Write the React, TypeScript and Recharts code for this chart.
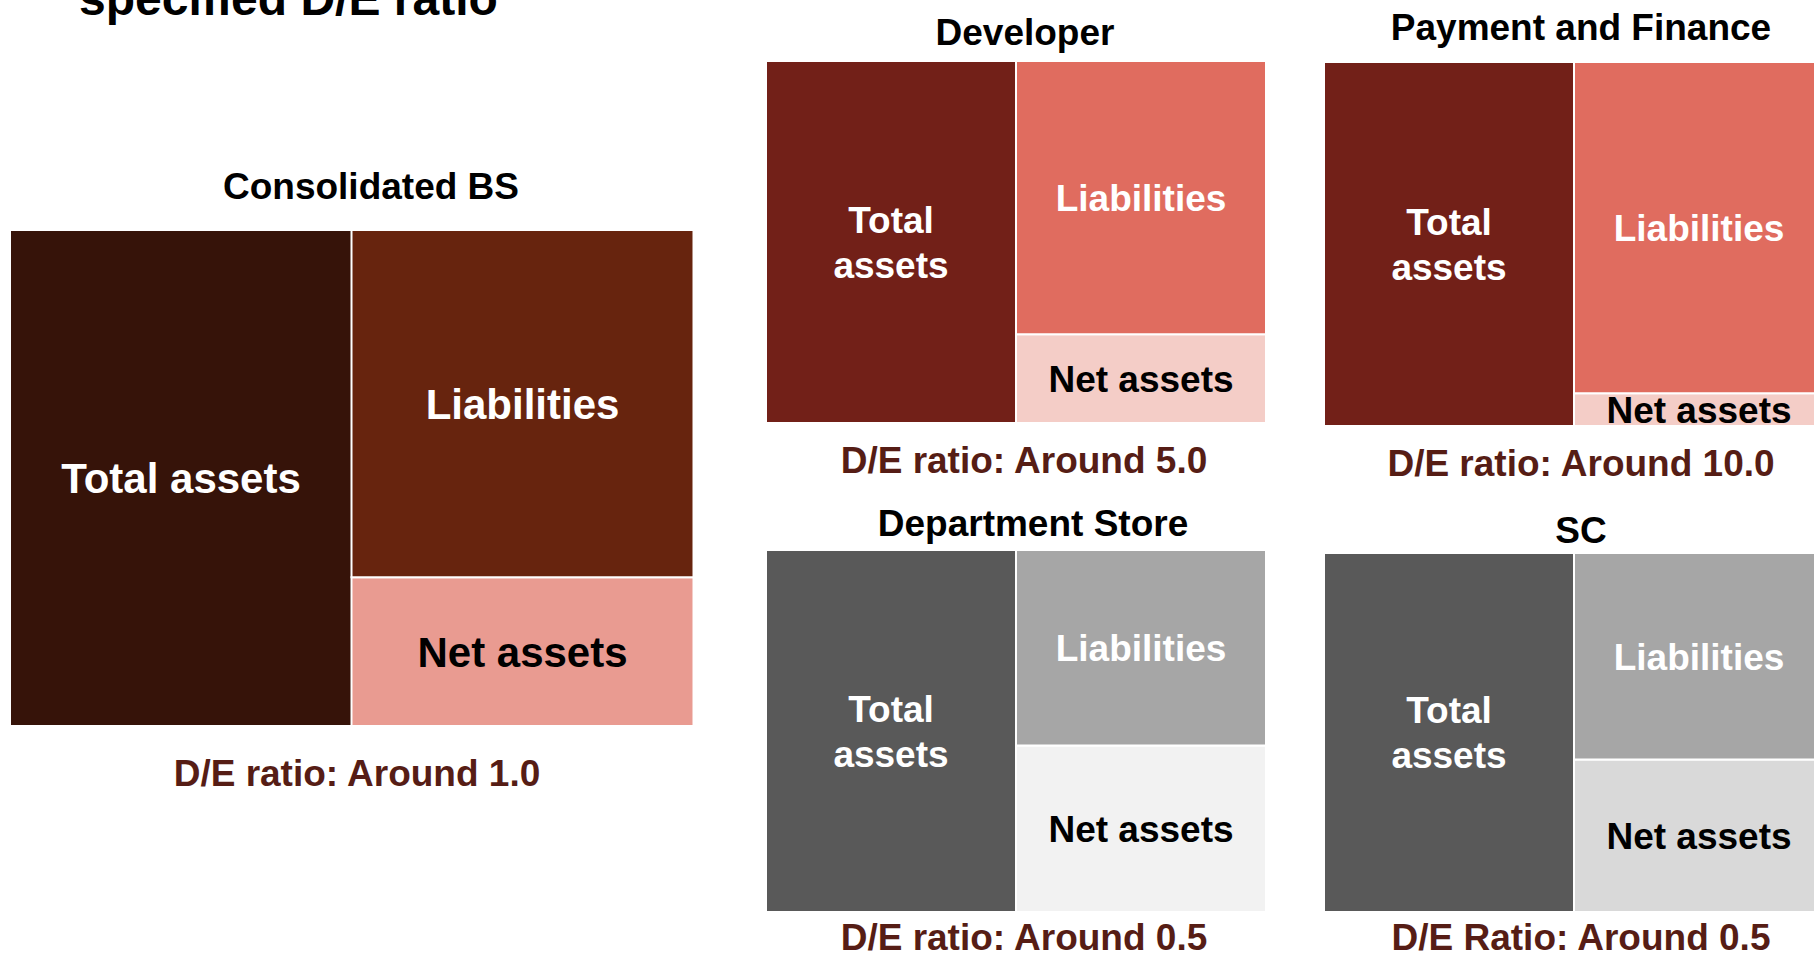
import React from 'react';
import { BarChart, Bar, XAxis, YAxis, LabelList } from 'recharts';

// balance-sheet shares (total assets = 100)
const panelTitles = ['Consolidated BS', 'Developer', 'Payment and Finance', 'Department Store', 'SC'];
const sides = ['Assets', 'Funding'];
const totalAssets = [100, 100, 100, 100, 100];
const liabilities = [70, 75.5, 91, 54, 57.5];
const netAssets = [30, 24.5, 9, 46, 42.5];
const ratioNotes = [
  'D/E ratio: Around 1.0',
  'D/E ratio: Around 5.0',
  'D/E ratio: Around 10.0',
  'D/E ratio: Around 0.5',
  'D/E Ratio: Around 0.5',
];
const headline = 'specified D/E ratio';

const FONT = '"Liberation Sans", Arial, Helvetica, sans-serif';
const NOTE_COLOR = '#561d15';

const red = { total: '#722018', liab: '#e06c5f', net: '#f4cdc7' };
const palettes = [
  { total: '#361309', liab: '#67240e', net: '#e99b91' },
  red,
  red,
  { total: '#595959', liab: '#a6a6a6', net: '#f2f2f2' },
  { total: '#595959', liab: '#a6a6a6', net: '#d9d9d9' },
];

// where each panel sits on the page
const boxes = [
  { x: 11, y: 231, w: 681, h: 494, font: 42, twoLine: false, titleX: 371, titleY: 199, noteX: 357, noteY: 786 },
  { x: 767, y: 62, w: 498, h: 360, font: 37, twoLine: true, titleX: 1025, titleY: 45, noteX: 1024, noteY: 473 },
  { x: 1325, y: 63, w: 498, h: 362, font: 37, twoLine: true, titleX: 1581, titleY: 40, noteX: 1581, noteY: 476 },
  { x: 767, y: 551, w: 498, h: 360, font: 37, twoLine: true, titleX: 1033, titleY: 536, noteX: 1024, noteY: 950 },
  { x: 1325, y: 554, w: 498, h: 357, font: 37, twoLine: true, titleX: 1581, titleY: 543, noteX: 1581, noteY: 950 },
];

const makeLabel = (lines: string[], color: string, fontSize: number) => (props: any) => {
  const { x, y, width, height } = props;
  if (!(height > 0) || !(width > 0)) return null;
  const cx = Number(x) + Number(width) / 2;
  const cy = Number(y) + Number(height) / 2;
  const lh = fontSize * 1.22;
  const first = cy - ((lines.length - 1) * lh) / 2 + fontSize * 0.36;
  return (
    <text textAnchor="middle" fill={color} fontSize={fontSize} fontWeight="bold" fontFamily={FONT}>
      {lines.map((l, i) => (
        <tspan key={i} x={cx} y={first + i * lh}>
          {l}
        </tspan>
      ))}
    </text>
  );
};

const Panel: React.FC<{ idx: number }> = ({ idx }) => {
  const box = boxes[idx];
  const pal = palettes[idx];
  const data = [
    { side: sides[0], total: totalAssets[idx], net: 0, liab: 0 },
    { side: sides[1], total: 0, net: netAssets[idx], liab: liabilities[idx] },
  ];
  const totalLines = box.twoLine ? ['Total', 'assets'] : ['Total assets'];
  return (
    <div style={{ position: 'absolute', left: box.x - 1, top: box.y - 1 }}>
      <BarChart
        width={box.w + 2}
        height={box.h + 2}
        data={data}
        margin={{ top: 0, right: 0, bottom: 0, left: 0 }}
        barCategoryGap={0}
        barGap={0}
      >
        <XAxis dataKey="side" hide />
        <YAxis hide domain={[0, 100]} />
        <Bar dataKey="total" stackId="bs" fill={pal.total} stroke="#ffffff" strokeWidth={2} isAnimationActive={false}>
          <LabelList dataKey="total" content={makeLabel(totalLines, '#ffffff', box.font)} />
        </Bar>
        <Bar dataKey="net" stackId="bs" fill={pal.net} stroke="#ffffff" strokeWidth={2} isAnimationActive={false}>
          <LabelList dataKey="net" content={makeLabel(['Net assets'], '#000000', box.font)} />
        </Bar>
        <Bar dataKey="liab" stackId="bs" fill={pal.liab} stroke="#ffffff" strokeWidth={2} isAnimationActive={false}>
          <LabelList dataKey="liab" content={makeLabel(['Liabilities'], '#ffffff', box.font)} />
        </Bar>
      </BarChart>
    </div>
  );
};

const App: React.FC = () => {
  return (
    <div
      style={{
        position: 'absolute',
        left: 0,
        top: 0,
        width: 1814,
        height: 954,
        overflow: 'hidden',
        background: '#ffffff',
      }}
    >
      {panelTitles.map((_, i) => (
        <Panel key={i} idx={i} />
      ))}
      <svg
        width={1814}
        height={954}
        style={{ position: 'absolute', left: 0, top: 0, pointerEvents: 'none' }}
      >
        <text x={79} y={15} fontSize={48} fontWeight="bold" fontFamily={FONT} fill="#000000">
          {headline}
        </text>
        {panelTitles.map((t, i) => (
          <text
            key={'t' + i}
            x={boxes[i].titleX}
            y={boxes[i].titleY}
            textAnchor="middle"
            fontSize={37}
            fontWeight="bold"
            fontFamily={FONT}
            fill="#000000"
          >
            {t}
          </text>
        ))}
        {ratioNotes.map((t, i) => (
          <text
            key={'n' + i}
            x={boxes[i].noteX}
            y={boxes[i].noteY}
            textAnchor="middle"
            fontSize={37}
            fontWeight="bold"
            fontFamily={FONT}
            fill={NOTE_COLOR}
          >
            {t}
          </text>
        ))}
      </svg>
    </div>
  );
};

export default App;
